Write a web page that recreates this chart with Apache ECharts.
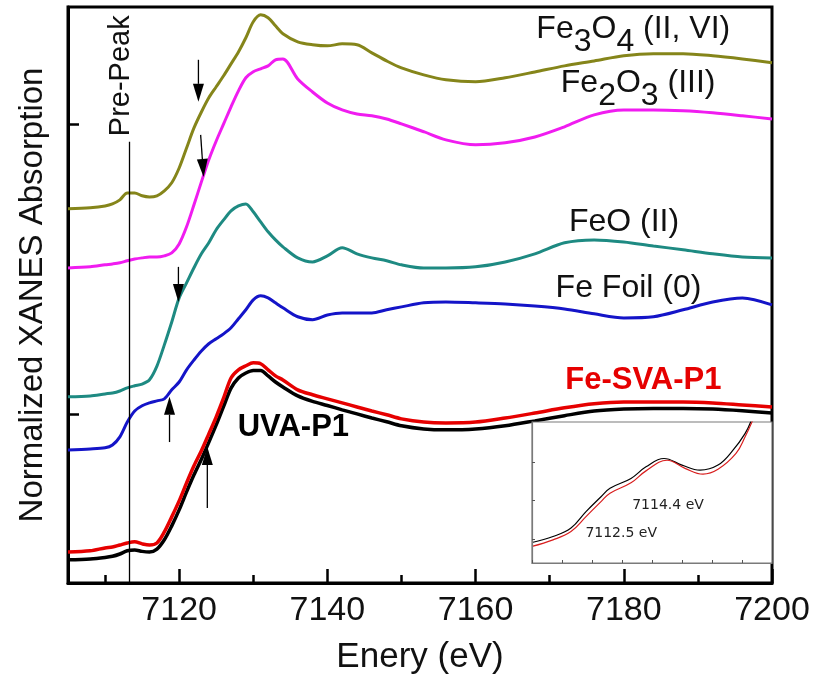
<!DOCTYPE html>
<html>
<head>
<meta charset="utf-8">
<title>Fe K-edge XANES</title>
<script src="https://cdn.jsdelivr.net/npm/echarts@6/dist/echarts.min.js"></script>
<style>
  html, body { margin: 0; padding: 0; background: #fff; }
  #chart { width: 817px; height: 686px; }
</style>
</head>
<body>
<div id="chart"></div>
<script>
// Photon energy grid (eV) shared by all main spectra
const energy = [7105, 7108, 7110, 7111, 7112, 7113, 7114, 7115, 7116, 7117, 7118, 7119, 7120,
  7121, 7122, 7123, 7124, 7125, 7126, 7127, 7128, 7129, 7130, 7131, 7132, 7133, 7134,
  7136, 7138, 7140, 7142, 7144, 7146, 7148, 7150, 7153, 7156,
  7160, 7164, 7168, 7172, 7176, 7180, 7184, 7188, 7192, 7196, 7200];

// Normalized absorption, stacked with vertical offsets
const fe3o4 = [0.708, 0.712, 0.718, 0.725, 0.739, 0.763, 0.763, 0.753, 0.749, 0.753, 0.770, 0.798, 0.849,
  0.918, 0.987, 1.042, 1.091, 1.129, 1.167, 1.208, 1.249, 1.298, 1.353, 1.377, 1.367, 1.339, 1.312,
  1.284, 1.274, 1.270, 1.277, 1.274, 1.246, 1.218, 1.194, 1.170, 1.153,
  1.146, 1.160, 1.180, 1.201, 1.218, 1.236, 1.243, 1.243, 1.236, 1.225, 1.212];
const fe2o3 = [0.504, 0.508, 0.515, 0.518, 0.522, 0.529, 0.535, 0.539, 0.542, 0.542, 0.546, 0.556, 0.587,
  0.646, 0.722, 0.801, 0.877, 0.942, 1.001, 1.060, 1.115, 1.160, 1.181, 1.191, 1.201, 1.222, 1.225,
  1.156, 1.111, 1.073, 1.049, 1.035, 1.029, 1.018, 1.001, 0.974, 0.946,
  0.929, 0.936, 0.956, 0.991, 1.032, 1.049, 1.049, 1.046, 1.039, 1.029, 1.018];
const feo = [0.060, 0.063, 0.070, 0.073, 0.080, 0.091, 0.098, 0.104, 0.119, 0.166, 0.239, 0.318, 0.401,
  0.453, 0.505, 0.553, 0.591, 0.636, 0.670, 0.701, 0.718, 0.725, 0.698, 0.663, 0.629, 0.601, 0.577,
  0.539, 0.525, 0.546, 0.574, 0.553, 0.539, 0.529, 0.515, 0.504, 0.504,
  0.508, 0.525, 0.553, 0.591, 0.601, 0.594, 0.580, 0.567, 0.553, 0.542, 0.539];
const feFoil = [-0.123, -0.120, -0.116, -0.106, -0.078, -0.027, 0.011, 0.029, 0.039, 0.046, 0.053, 0.084, 0.111,
  0.153, 0.187, 0.218, 0.243, 0.260, 0.277, 0.298, 0.329, 0.360, 0.394, 0.408, 0.401, 0.384, 0.367,
  0.336, 0.326, 0.342, 0.349, 0.349, 0.349, 0.360, 0.370, 0.384, 0.387,
  0.384, 0.380, 0.373, 0.363, 0.346, 0.332, 0.336, 0.360, 0.387, 0.401, 0.377];
const uvaP1 = [-0.502, -0.499, -0.494, -0.490, -0.482, -0.471, -0.468, -0.473, -0.475, -0.465, -0.433, -0.385, -0.330,
  -0.268, -0.209, -0.155, -0.097, -0.037, 0.027, 0.090, 0.125, 0.142, 0.151, 0.151, 0.132, 0.111, 0.094,
  0.063, 0.044, 0.030, 0.015, 0.001, -0.013, -0.026, -0.040, -0.051, -0.054,
  -0.051, -0.040, -0.023, -0.005, 0.011, 0.018, 0.020, 0.020, 0.018, 0.012, 0.004];
const feSvaP1 = [-0.475, -0.471, -0.461, -0.458, -0.451, -0.444, -0.440, -0.447, -0.451, -0.444, -0.406, -0.354, -0.299,
  -0.237, -0.178, -0.126, -0.068, -0.009, 0.056, 0.125, 0.153, 0.167, 0.177, 0.174, 0.153, 0.132, 0.118,
  0.084, 0.067, 0.053, 0.039, 0.025, 0.011, -0.002, -0.016, -0.027, -0.030,
  -0.027, -0.013, 0.004, 0.022, 0.036, 0.042, 0.042, 0.042, 0.039, 0.032, 0.025];

// Pre-edge close-up
const insetEnergyUva = [7108.0, 7108.7, 7109.3, 7109.8, 7110.3, 7110.6, 7111.3, 7111.8, 7112.4, 7113.0, 7113.6, 7114.2, 7114.7, 7115.1, 7115.3];
const insetUva = [0.0382, 0.0413, 0.0457, 0.0542, 0.0619, 0.0663, 0.0714, 0.0774, 0.0817, 0.0783, 0.0757, 0.0783, 0.0860, 0.0946, 0.1010];
const insetEnergySva = [7108.0, 7108.7, 7109.3, 7109.8, 7110.3, 7110.6, 7111.3, 7111.8, 7112.5, 7113.1, 7113.7, 7114.2, 7114.8, 7115.1, 7115.4];
const insetSva = [0.0362, 0.0396, 0.0439, 0.0516, 0.0594, 0.0637, 0.0691, 0.0753, 0.0808, 0.0766, 0.0736, 0.0761, 0.0843, 0.0928, 0.1030];

// Ticks
const xTicks = [7120, 7140, 7160, 7180, 7200];
const xMinorTicks = [7110, 7130, 7150, 7170, 7190];
const yTicks = [0, 1];
const insetYTicks = [0.04, 0.06, 0.08];

// Annotations
const prePeakEnergy = 7113.3;
const seriesNames = {
  fe3o4: 'Fe3O4 (II, VI)', fe2o3: 'Fe2O3 (III)', feo: 'FeO (II)',
  foil: 'Fe Foil (0)', sva: 'Fe-SVA-P1', uva: 'UVA-P1'
};

const FONT = "'Liberation Sans', Arial, Helvetica, sans-serif";
const Y_MIN = -0.582, Y_MAX = 1.404;

const pairs = (xs, ys) => xs.map((x, i) => [x, ys[i]]);

function mainLine(name, values, color, width) {
  return {
    name, type: 'line', xAxisIndex: 0, yAxisIndex: 0,
    data: pairs(energy, values), showSymbol: false, smooth: 0.3,
    lineStyle: { color, width }, silent: true, z: 2
  };
}
function insetLine(name, xs, ys, color) {
  return {
    name, type: 'line', xAxisIndex: 2, yAxisIndex: 1,
    data: pairs(xs, ys), showSymbol: false, smooth: 0.4,
    lineStyle: { color, width: 1.2 }, silent: true, z: 6
  };
}

const chart = echarts.init(document.getElementById('chart'));
chart.setOption({
  animation: false,
  backgroundColor: '#fff',
  grid: [
    { left: 68, right: 45, top: 7, bottom: 103, show: true, borderColor: '#000', borderWidth: 3 },
    { left: 532, right: 45, top: 422, bottom: 123, show: true, borderColor: '#7a7a7a', borderWidth: 1.2, backgroundColor: '#fff', z: 4 }
  ],
  xAxis: [
    {
      gridIndex: 0, type: 'value', min: 7105, max: 7200, position: 'bottom',
      axisLine: { onZero: false, lineStyle: { color: '#000', width: 3 } },
      axisTick: { inside: true, length: 14, customValues: xTicks, lineStyle: { color: '#000', width: 2.5 } },
      axisLabel: { customValues: xTicks, formatter: v => String(v), fontSize: 34, fontFamily: FONT, color: '#111', margin: 11 },
      splitLine: { show: false },
      name: 'Enery (eV)', nameLocation: 'middle', nameGap: 57,
      nameTextStyle: { fontSize: 35, fontFamily: FONT, color: '#111' }
    },
    {
      gridIndex: 0, type: 'value', min: 7105, max: 7200, position: 'bottom',
      axisLine: { show: false, onZero: false },
      axisTick: { inside: true, length: 8, customValues: xMinorTicks, lineStyle: { color: '#000', width: 2.5 } },
      axisLabel: { show: false }, splitLine: { show: false }
    },
    {
      gridIndex: 1, type: 'value', min: 7108, max: 7116, interval: 1, position: 'bottom', z: 7,
      axisLine: { onZero: false, lineStyle: { color: '#7a7a7a', width: 1.2 } },
      axisTick: { inside: true, length: 3, lineStyle: { color: '#555', width: 1 } },
      axisLabel: { show: false }, splitLine: { show: false }
    }
  ],
  yAxis: [
    {
      gridIndex: 0, type: 'value', min: Y_MIN, max: Y_MAX, position: 'left',
      axisLine: { onZero: false, lineStyle: { color: '#000', width: 3 } },
      axisTick: { inside: true, length: 11, customValues: yTicks, lineStyle: { color: '#000', width: 2.5 } },
      axisLabel: { show: false }, splitLine: { show: false },
      name: 'Normalized XANES Absorption', nameLocation: 'middle', nameGap: 19,
      nameTextStyle: { fontSize: 33, fontFamily: FONT, color: '#111' }
    },
    {
      gridIndex: 1, type: 'value', min: 0.0276, max: 0.1006, position: 'left', z: 7,
      axisLine: { onZero: false, lineStyle: { color: '#7a7a7a', width: 1.2 } },
      axisTick: { inside: true, length: 3, customValues: insetYTicks, lineStyle: { color: '#555', width: 1 } },
      axisLabel: { show: false }, splitLine: { show: false }
    }
  ],
  series: [
    mainLine(seriesNames.fe3o4, fe3o4, '#85851a', 3),
    mainLine(seriesNames.fe2o3, fe2o3, '#f01cf0', 3),
    mainLine(seriesNames.feo, feo, '#1e8a82', 3),
    mainLine(seriesNames.foil, feFoil, '#1414c8', 3),
    mainLine(seriesNames.uva, uvaP1, '#000000', 3.5),
    mainLine(seriesNames.sva, feSvaP1, '#e60000', 3.5),
    insetLine(seriesNames.uva, insetEnergyUva, insetUva, '#000000'),
    insetLine(seriesNames.sva, insetEnergySva, insetSva, '#d81e1e')
  ]
});

// Annotation layer: labels, arrows and the pre-peak marker, placed in data space
const toPx = (e, v) => chart.convertToPixel({ gridIndex: 0 }, [e, v]);
const toInsetPx = (e, v) => chart.convertToPixel({ gridIndex: 1 }, [e, v]);

function textEl(p, text, opts) {
  const align = opts.align || 'left', vAlign = opts.verticalAlign || 'middle';
  return {
    type: 'text', x: p[0], y: p[1], rotation: opts.rotation || 0, z: 10,
    style: Object.assign({
      text, fontFamily: opts.fontFamily || FONT, fontSize: opts.fontSize || 32,
      fontWeight: opts.fontWeight || 'normal', fill: opts.fill || '#111',
      align, verticalAlign: vAlign, textAlign: align, textVerticalAlign: vAlign
    }, opts.rich ? { rich: opts.rich } : {})
  };
}

function formulaRich(size) {
  const base = { fontSize: size, fontFamily: FONT, fill: '#111', lineHeight: size, verticalAlign: 'top' };
  return { n: base, s: Object.assign({}, base, { padding: [13, 0, 0, 0] }) };
}

function arrowEls(from, to) {
  const p0 = toPx(from[0], from[1]), p1 = toPx(to[0], to[1]);
  const dx = p1[0] - p0[0], dy = p1[1] - p0[1];
  const len = Math.hypot(dx, dy), ux = dx / len, uy = dy / len;
  const headLen = 18, half = 5.5;
  const bx = p1[0] - ux * headLen, by = p1[1] - uy * headLen;
  return [
    { type: 'line', z: 10, shape: { x1: p0[0], y1: p0[1], x2: bx, y2: by }, style: { stroke: '#000', lineWidth: 1.3 } },
    { type: 'polygon', z: 10, shape: { points: [[p1[0], p1[1]], [bx - uy * half, by + ux * half], [bx + uy * half, by - ux * half]] }, style: { fill: '#000' } }
  ];
}

const arrows = [
  [[7122.6, 1.222], [7122.6, 1.077]],
  [[7122.9, 0.963], [7123.3, 0.818]],
  [[7119.9, 0.508], [7119.9, 0.387]],
  [[7118.7, -0.096], [7118.7, 0.060]],
  [[7123.8, -0.323], [7123.8, -0.113]]
];

const prePeakTop = toPx(prePeakEnergy, 0.939), prePeakBottom = toPx(prePeakEnergy, Y_MIN);

const elements = [
  { type: 'line', z: 9, shape: { x1: prePeakTop[0], y1: prePeakTop[1], x2: prePeakBottom[0], y2: prePeakBottom[1] }, style: { stroke: '#000', lineWidth: 1.3 } },
  textEl(toPx(7112.1, 1.167), 'Pre-Peak', { fontSize: 29, align: 'center', rotation: Math.PI / 2 }),
  textEl(toPx(7168.2, 1.384), '{n|Fe}{s|3}{n|O}{s|4}{n| (II, VI)}', { verticalAlign: 'top', rich: formulaRich(32) }),
  textEl(toPx(7171.5, 1.198), '{n|Fe}{s|2}{n|O}{s|3}{n| (III)}', { verticalAlign: 'top', rich: formulaRich(32) }),
  textEl(toPx(7172.6, 0.663), 'FeO (II)', { fontSize: 32 }),
  textEl(toPx(7170.8, 0.436), 'Fe Foil (0)', { fontSize: 32 }),
  textEl(toPx(7172.1, 0.115), 'Fe-SVA-P1', { fontSize: 31, fontWeight: 'bold', fill: '#e60000' }),
  textEl(toPx(7127.9, -0.044), 'UVA-P1', { fontSize: 31, fontWeight: 'bold', fill: '#000' }),
  textEl(toInsetPx(7111.34, 0.0572), '7114.4 eV', { fontSize: 14, fontFamily: "'DejaVu Sans', sans-serif", fill: '#222' }),
  textEl(toInsetPx(7109.78, 0.0432), '7112.5 eV', { fontSize: 14, fontFamily: "'DejaVu Sans', sans-serif", fill: '#222' })
];
arrows.forEach(a => elements.push(...arrowEls(a[0], a[1])));

chart.setOption({ graphic: { elements } });
</script>
</body>
</html>
